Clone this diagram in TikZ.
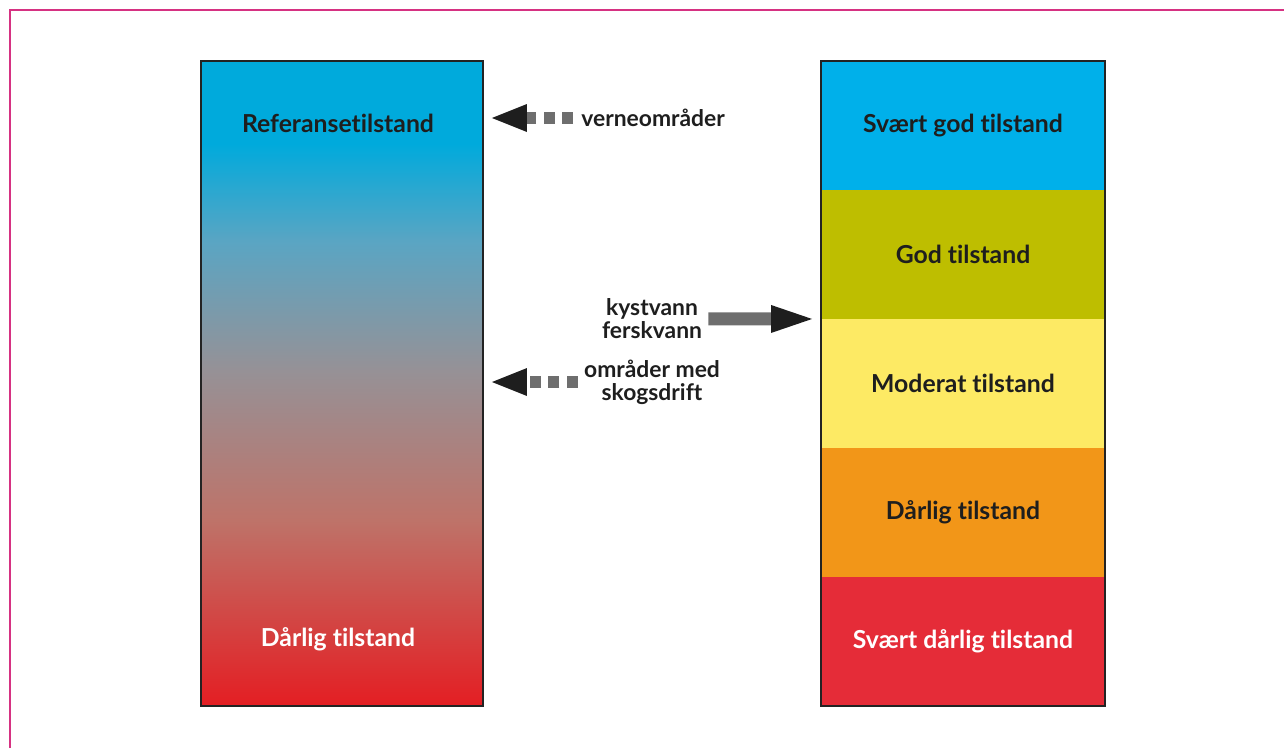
\documentclass[tikz,border=0pt]{standalone}
\usepackage{fontspec}
\setmainfont{Lato}[Ligatures=NoCommon]
\usepackage{xcolor}
\usepackage{tikz}
\usetikzlibrary{arrows.meta,positioning,calc}

\definecolor{framecol}{RGB}{214,50,130}
\definecolor{barline}{RGB}{35,35,35}
\definecolor{txtblack}{RGB}{30,30,30}
\definecolor{arrowgray}{RGB}{110,110,110}
\definecolor{refcyan}{RGB}{0,170,220}
\definecolor{grada}{RGB}{90,165,195}
\definecolor{gradb}{RGB}{150,145,150}
\definecolor{gradc}{RGB}{190,115,105}
\definecolor{darligred}{RGB}{228,30,35}
\definecolor{svgodcol}{RGB}{0,176,234}
\definecolor{godcol}{RGB}{190,190,0}
\definecolor{modcol}{RGB}{253,234,100}
\definecolor{darcol}{RGB}{242,150,24}
\definecolor{svdarcol}{RGB}{229,44,56}

\pgfdeclareverticalshading{tilstandgrad}{100bp}{color(0bp)=(darligred); color(25bp)=(darligred); color(39.4bp)=(gradc); color(51bp)=(gradb); color(61bp)=(grada); color(68.6bp)=(refcyan); color(100bp)=(refcyan)}

\tikzset{
    refbox/.style={rectangle, draw=barline, line width=0.04cm, minimum width=5.64cm, minimum height=12.9cm, inner sep=0, shading=tilstandgrad},
    band/.style={rectangle, minimum width=5.68cm, minimum height=2.58cm, inner sep=0, outer sep=0, font=\fontsize{14.1}{17}\selectfont\bfseries, text=txtblack},
    barlbl/.style={inner sep=0, font=\fontsize{14.1}{17}\selectfont\bfseries},
    sidelbl/.style={inner sep=0, align=center, font=\fontsize{13}{13}\selectfont\bfseries, text=txtblack},
    dasharrow/.style={line width=0.25cm, draw=arrowgray, dash pattern=on 0.22cm off 0.15cm, -{Triangle[length=0.7cm, width=0.56cm, line width=0pt, color=txtblack]}},
    solidarrow/.style={line width=0.26cm, draw=arrowgray, -{Triangle[length=0.82cm, width=0.56cm, line width=0pt, color=txtblack]}},
}

\begin{document}
\begin{tikzpicture}[x=0.02cm, y=-0.02cm]
    \useasboundingbox (0,0) rectangle (1284,748);
    \draw[framecol, line width=0.04cm] (10,748) -- (10,10) -- (1284,10);

    % reference scale
    \node[refbox] (refbar) at (342,383.5) {};
    \node[barlbl, text=txtblack] (refhigh) at ($(refbar.north)+(-4,63)$) {Referansetilstand};
    \node[barlbl, text=white] (reflow) at ($(refbar.south)+(-4,-68)$) {Dårlig tilstand};

    % classes
    \node[band, fill=svgodcol] (svgod) at (963,125.5) {Svært god tilstand};
    \node[band, fill=godcol, below=0pt of svgod] (god) {God tilstand};
    \node[band, fill=modcol, below=0pt of god] (moderat) {Moderat tilstand};
    \node[band, fill=darcol, below=0pt of moderat] (darlig) {Dårlig tilstand};
    \node[band, fill=svdarcol, text=white, below=0pt of darlig] (svdarlig) {Svært dårlig tilstand};
    \draw[barline, line width=0.04cm] (svgod.north west) rectangle (svdarlig.south east);

    % side labels
    \node[sidelbl, anchor=west] (verne) at (581,118) {verneområder};
    \node[sidelbl] (kyst) at (652,319) {kystvann\\ferskvann};
    \node[sidelbl] (skog) at (652,382) {områder med\\skogsdrift};

    \coordinate (verneend) at ($(refbar.east |- verne)+(8,0)$);
    \coordinate (skogend) at ($(refbar.east |- skog)+(8,0)$);
    \coordinate (kystend) at ($(god.south west)+(-9,0)$);

    \draw[dasharrow, shorten <=0.16cm] (verne) -- (verneend);
    \draw[dasharrow, shorten <=0.12cm] (skog) -- (skogend);
    \draw[solidarrow, shorten <=0.12cm] (kyst) -- (kystend);
\end{tikzpicture}
\end{document}
